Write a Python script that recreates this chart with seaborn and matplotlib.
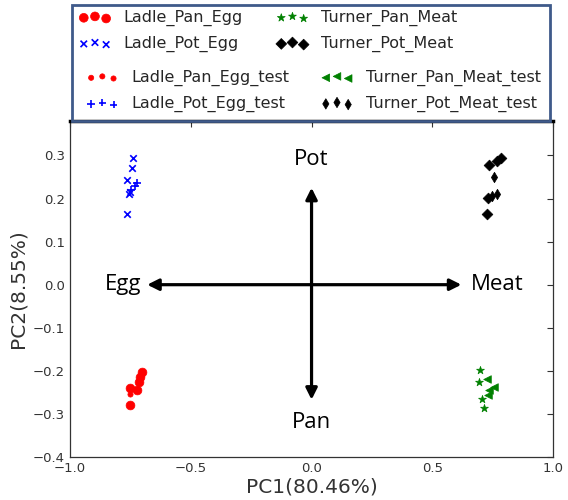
import matplotlib
matplotlib.use("Agg")
import matplotlib.pyplot as plt
import seaborn as sns
import pandas as pd
from matplotlib.patches import Rectangle

# PCA scores
ladle_pan_egg_x = [-0.700, -0.710, -0.712, -0.752, -0.724, -0.752]
ladle_pan_egg_y = [-0.202, -0.215, -0.225, -0.240, -0.244, -0.279]
ladle_pot_egg_x = [-0.740, -0.742, -0.765, -0.750, -0.757, -0.765]
ladle_pot_egg_y = [0.295, 0.270, 0.243, 0.215, 0.210, 0.165]
turner_pan_meat_x = [0.695, 0.691, 0.705, 0.714]
turner_pan_meat_y = [-0.199, -0.226, -0.266, -0.287]
turner_pot_meat_x = [0.735, 0.767, 0.785, 0.730, 0.725]
turner_pot_meat_y = [0.277, 0.288, 0.293, 0.202, 0.163]

ladle_pan_egg_test_x = [-0.750, -0.706]
ladle_pan_egg_test_y = [-0.253, -0.212]
ladle_pot_egg_test_x = [-0.723, -0.730, -0.745]
ladle_pot_egg_test_y = [0.237, 0.230, 0.220]
turner_pan_meat_test_x = [0.725, 0.753, 0.736, 0.732]
turner_pan_meat_test_y = [-0.219, -0.238, -0.244, -0.257]
turner_pot_meat_test_x = [0.753, 0.767, 0.745]
turner_pot_meat_test_y = [0.250, 0.211, 0.205]

# direction arrows and their labels
arrow_ends = {"Egg": (-0.68, 0.0), "Meat": (0.62, 0.0), "Pot": (0.0, 0.225), "Pan": (0.0, -0.267)}
arrow_text = {"Egg": (-0.78, 0.0), "Meat": (0.77, 0.0), "Pot": (0.0, 0.29), "Pan": (0.0, -0.32)}

train = [
    ("Ladle_Pan_Egg", ladle_pan_egg_x, ladle_pan_egg_y, "o", "red", 40),
    ("Ladle_Pot_Egg", ladle_pot_egg_x, ladle_pot_egg_y, "x", "blue", 22),
    ("Turner_Pan_Meat", turner_pan_meat_x, turner_pan_meat_y, "*", "green", 35),
    ("Turner_Pot_Meat", turner_pot_meat_x, turner_pot_meat_y, "D", "black", 30),
]
test = [
    ("Ladle_Pan_Egg_test", ladle_pan_egg_test_x, ladle_pan_egg_test_y, "o", "red", 14),
    ("Ladle_Pot_Egg_test", ladle_pot_egg_test_x, ladle_pot_egg_test_y, "+", "blue", 30),
    ("Turner_Pan_Meat_test", turner_pan_meat_test_x, turner_pan_meat_test_y, "<", "green", 30),
    ("Turner_Pot_Meat_test", turner_pot_meat_test_x, turner_pot_meat_test_y, "d", "black", 28),
]

sns.set_style("white")
plt.rcParams["font.family"] = ["DejaVu Sans"]

fig = plt.figure(figsize=(5.68, 5.0), dpi=100)
ax = fig.add_axes([0.123, 0.086, 0.851, 0.672])

handles = {}
for name, xs, ys, mk, col, size in train + test:
    df = pd.DataFrame({"PC1": xs, "PC2": ys})
    if mk in ("x", "+"):
        sns.scatterplot(data=df, x="PC1", y="PC2", marker=mk, color=col, s=size,
                        linewidth=1.2, ax=ax, label=name)
    else:
        sns.scatterplot(data=df, x="PC1", y="PC2", marker=mk, color=col, s=size,
                        edgecolor=col, linewidth=0.5, ax=ax, label=name)
    handles[name] = ax.collections[-1]
ax.get_legend().remove()

for key, (x, y) in arrow_ends.items():
    ax.annotate("", xy=(x, y), xytext=(0, 0),
                arrowprops=dict(arrowstyle="-|>", color="black", lw=2.3, mutation_scale=17,
                                shrinkA=0, shrinkB=0))
    tx, ty = arrow_text[key]
    ax.text(tx, ty, key, fontsize=16, family="Open Sans", color="black", ha="center", va="center")

ax.set_xlim(-1.0, 1.0)
ax.set_ylim(-0.4, 0.38)
ax.set_xticks([-1.0, -0.5, 0.0, 0.5, 1.0])
ax.set_yticks([-0.4, -0.3, -0.2, -0.1, 0.0, 0.1, 0.2, 0.3])
ax.tick_params(direction="in", top=True, right=True, length=4, labelsize=9.5, colors="#333333")
ax.set_xlabel("PC1(80.46%)", fontsize=14.5, color="#333333", labelpad=2)
ax.set_ylabel("PC2(8.55%)", fontsize=14.5, color="#333333")
for sp in ax.spines.values():
    sp.set_color("#333333")
    sp.set_linewidth(0.9)
ax.spines["top"].set_linewidth(2.5)
ax.spines["top"].set_color("black")

leg_kw = dict(loc="upper left", ncol=2, frameon=False, fontsize=11.5, scatterpoints=3,
              borderpad=0, handlelength=2.0, handletextpad=0.8, labelspacing=0.62)
order_train = ["Ladle_Pan_Egg", "Ladle_Pot_Egg", "Turner_Pan_Meat", "Turner_Pot_Meat"]
order_test = ["Ladle_Pan_Egg_test", "Ladle_Pot_Egg_test", "Turner_Pan_Meat_test", "Turner_Pot_Meat_test"]
fig.legend([handles[n] for n in order_train], order_train, bbox_to_anchor=(0.125, 0.996),
           columnspacing=2.1, **leg_kw)
fig.legend([handles[n] for n in order_test], order_test, bbox_to_anchor=(0.138, 0.876),
           columnspacing=2.0, **leg_kw)
fig.patches.append(Rectangle((0.127, 0.758), 0.842, 0.232, transform=fig.transFigure,
                             fill=False, edgecolor="#3f5a8a", linewidth=2))

plt.savefig("out.png", dpi=100)
